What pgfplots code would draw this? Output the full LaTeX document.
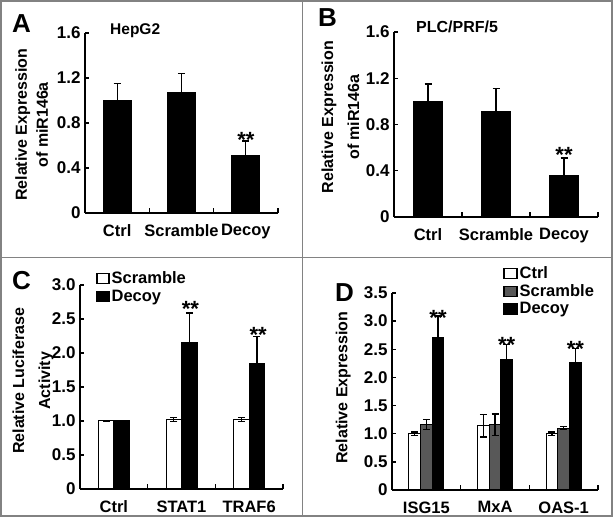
\documentclass[border=0pt]{standalone}
\usepackage{fontspec}
\setmainfont{Liberation Sans}
\usepackage{pgfplots}
\pgfplotsset{compat=1.18}
\definecolor{bordergray}{RGB}{130,130,130}
\definecolor{bargray}{RGB}{88,88,88}
\newcommand{\fs}[1]{\fontsize{#1}{#1}\selectfont\bfseries}
\newcommand{\bticks}{%
  \draw[line width=1.3pt] (axis cs:0.5,0) -- ++(0pt,5pt);
  \draw[line width=1.3pt] (axis cs:1.5,0) -- ++(0pt,5pt);
  \draw[line width=1.3pt] (axis cs:2.5,0) -- ++(0pt,5pt);}
\tikzset{star/.style={font=\fs{22}, anchor=base, inner sep=0pt}}
\pgfplotsset{
  panel/.style={
    scale only axis, clip=false, ybar,
    anchor=south west,
    axis x line*=bottom, axis y line*=left,
    axis line style={-, line width=1.7pt},
    ytick style={line width=1.3pt, black},
    xtick style={draw=none},
    major tick length=4pt,
    tick align=inside,
    ymin=0, xmin=-0.5, xmax=2.5,
    xtick={0,1,2},
    tick label style={font=\fs{17}},
    xticklabel style={yshift=-8pt, font=\fs{16.5}},
    yticklabel style={xshift=-1pt},
    /pgf/number format/assume math mode=true,
    ylabel style={font=\fontsize{16}{21}\selectfont\bfseries, rotate=0, align=center},
  },
  ebar/.style={error bars/.cd, y dir=both, y explicit,
    error bar style={line width=1.3pt, black},
    error mark options={rotate=90, mark size=3.5pt, line width=1.3pt, black}},
}
\begin{document}
\begin{tikzpicture}
\path[use as bounding box] (0pt,0pt) rectangle (613pt,518pt);
\draw[bordergray, line width=2pt] (1pt,2pt) rectangle (612pt,517pt);
\draw[bordergray, line width=1.5pt] (302.7pt,2pt) -- (302.7pt,517pt);
\draw[bordergray, line width=1.5pt] (1pt,260.3pt) -- (612pt,260.3pt);

% Panel A
\begin{axis}[panel, at={(85pt,305pt)}, width=193pt, height=180pt,
  ymax=1.6, ytick={0,0.4,0.8,1.2,1.6}, yticklabels={0,0.4,0.8,1.2,1.6},
  xticklabels={Ctrl,Scramble,Decoy},
  ylabel={Relative Expression\\of miR146a},
  ylabel style={at={(axis description cs:-0.277,0.49)}, anchor=center, rotate=0}]
\addplot[bar width=28pt, bar shift=0pt, fill=black, draw=black, line width=1pt, ebar]
  coordinates {(0,1.0) +- (0,0.15) (1,1.07) +- (0,0.17) (2,0.51) +- (0,0.13)};
\node[star] at (axis cs:2,0.58) {**};
\bticks
\end{axis}
\node[font=\fs{26}, anchor=base west, inner sep=0pt] at (12pt,485pt) {A};
\node[font=\fs{15.5}, anchor=base west, inner sep=0pt] at (110pt,483pt) {HepG2};

% Panel B
\begin{axis}[panel, at={(394pt,301pt)}, width=204pt, height=185pt,
  ymax=1.6, ytick={0,0.4,0.8,1.2,1.6}, yticklabels={0,0.4,0.8,1.2,1.6},
  xticklabels={Ctrl,Scramble,Decoy},
  ylabel={Relative Expression\\of miR146a},
  ylabel style={at={(axis description cs:-0.263,0.54)}, anchor=center, font=\fontsize{16}{26}\selectfont\bfseries}]
\addplot[bar width=29pt, bar shift=0pt, fill=black, draw=black, line width=1pt, ebar]
  coordinates {(0,1.0) +- (0,0.15) (1,0.91) +- (0,0.2) (2,0.36) +- (0,0.15)};
\node[star] at (axis cs:2,0.47) {**};
\bticks
\end{axis}
\node[font=\fs{26}, anchor=base west, inner sep=0pt] at (318pt,491pt) {B};
\node[font=\fs{16}, anchor=base west, inner sep=0pt] at (416pt,485pt) {PLC/PRF/5};

% Panel C
\begin{axis}[panel, at={(80pt,29pt)}, width=203pt, height=204pt,
  ymax=3.0, ytick={0,0.5,1,1.5,2,2.5,3}, yticklabels={0,0.5,1.0,1.5,2.0,2.5,3.0},
  xticklabels={Ctrl,STAT1,TRAF6},
  ylabel={Relative Luciferase\\Activity},
  ylabel style={at={(axis description cs:-0.232,0.53)}, anchor=center, font=\fontsize{16}{26}\selectfont\bfseries},
  legend style={at={(0.08,1.075)}, anchor=north west, draw=none, fill=none,
    font=\fs{16.5}, row sep=0.5pt, inner sep=0pt,
    /tikz/every even column/.append style={column sep=1pt}},
  legend cell align=left,
  legend image code/.code={\draw[#1, line width=1.2pt, draw=black] (0pt,-5pt) rectangle (12pt,5pt);}]
\addplot[bar width=15.5pt, bar shift=-7.75pt, fill=white, draw=black, line width=1pt, ebar]
  coordinates {(0,1.0) +- (0,0) (1,1.02) +- (0,0.03) (2,1.02) +- (0,0.03)};
\addlegendentry{Scramble}
\addplot[bar width=15.5pt, bar shift=7.75pt, fill=black, draw=black, line width=1pt, ebar]
  coordinates {(0,1.0) +- (0,0) (1,2.15) +- (0,0.44) (2,1.84) +- (0,0.4)};
\addlegendentry{Decoy}
\node[star, xshift=9pt] at (axis cs:1,2.54) {**};
\node[star, xshift=9pt] at (axis cs:2,2.16) {**};
\bticks
\end{axis}
\node[font=\fs{26}, anchor=base west, inner sep=0pt] at (12pt,228pt) {C};

% Panel D
\begin{axis}[panel, at={(392pt,28pt)}, width=206pt, height=197pt,
  ymax=3.5, ytick={0,0.5,1,1.5,2,2.5,3,3.5}, yticklabels={0,0.5,1.0,1.5,2.0,2.5,3.0,3.5},
  xticklabels={ISG15,MxA,OAS-1},
  ylabel={Relative Expression},
  ylabel style={at={(axis description cs:-0.237,0.52)}, anchor=center},
  legend style={at={(0.54,1.145)}, anchor=north west, draw=none, fill=none,
    font=\fs{16.5}, row sep=0.5pt, inner sep=0pt,
    /tikz/every even column/.append style={column sep=1pt}},
  legend cell align=left,
  legend image code/.code={\draw[#1, line width=1.2pt, draw=black] (0pt,-5pt) rectangle (13pt,5pt);}]
\addplot[bar width=11.7pt, bar shift=-11.7pt, fill=white, draw=black, line width=1pt, ebar]
  coordinates {(0,1.0) +- (0,0.03) (1,1.14) +- (0,0.2) (2,1.0) +- (0,0.03)};
\addlegendentry{Ctrl}
\addplot[bar width=11.7pt, bar shift=0pt, fill=bargray, draw=black, line width=1pt, ebar]
  coordinates {(0,1.16) +- (0,0.09) (1,1.16) +- (0,0.19) (2,1.1) +- (0,0.03)};
\addlegendentry{Scramble}
\addplot[bar width=11.7pt, bar shift=11.7pt, fill=black, draw=black, line width=1pt, ebar]
  coordinates {(0,2.71) +- (0,0.38) (1,2.31) +- (0,0.27) (2,2.26) +- (0,0.26)};
\addlegendentry{Decoy}
\node[star, xshift=11.7pt] at (axis cs:0,2.93) {**};
\node[star, xshift=11.7pt] at (axis cs:1,2.45) {**};
\node[star, xshift=11.7pt] at (axis cs:2,2.38) {**};
\bticks
\end{axis}
\node[font=\fs{26}, anchor=base west, inner sep=0pt] at (335pt,216pt) {D};
\end{tikzpicture}
\end{document}
